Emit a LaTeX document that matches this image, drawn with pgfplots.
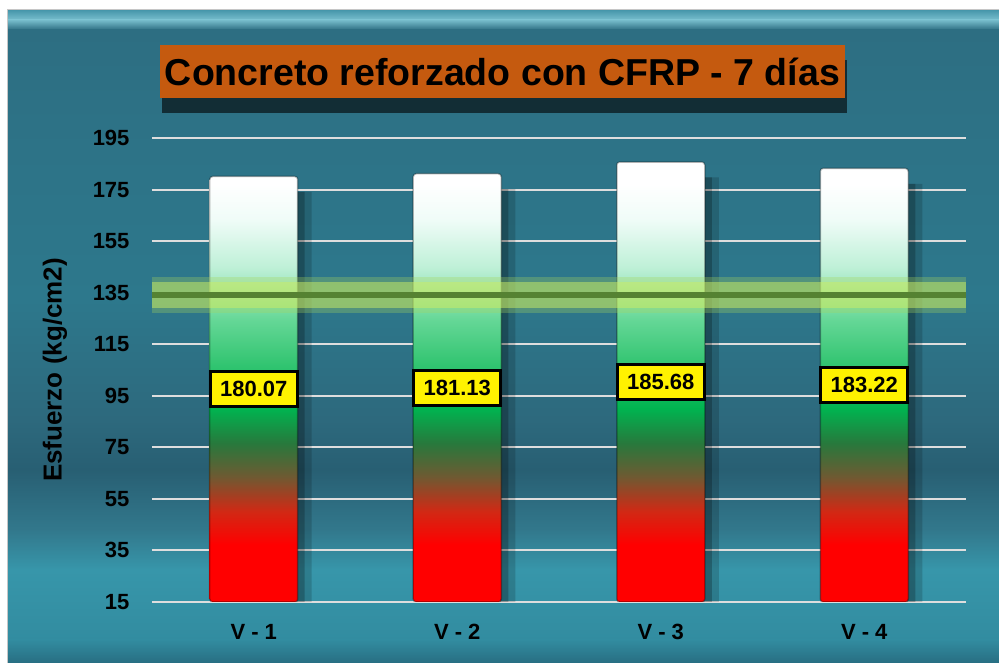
\documentclass[border=0pt]{standalone}
\usepackage{pgfplots}
\pgfplotsset{compat=1.18}
\usepackage{pgfplotstable}
\usepackage{fontspec}
\setmainfont{Liberation Sans}

\definecolor{cRed}{RGB}{255,0,0}
\definecolor{cA}{RGB}{210,40,20}
\definecolor{cB}{RGB}{110,90,50}
\definecolor{cC}{RGB}{40,120,60}
\definecolor{cD}{RGB}{0,180,80}
\definecolor{cE}{RGB}{60,200,120}
\definecolor{cF}{RGB}{100,215,150}
\definecolor{cG}{RGB}{190,240,215}
\definecolor{cH}{RGB}{240,252,248}
\definecolor{titleorange}{RGB}{197,90,15}
\definecolor{gridc}{RGB}{222,222,222}
\definecolor{glowA}{RGB}{170,215,90}
\definecolor{glowB}{RGB}{205,238,100}
\definecolor{lineC}{RGB}{85,130,50}
\definecolor{bg0}{RGB}{70,150,170}
\definecolor{bg1}{RGB}{120,190,205}
\definecolor{bg2}{RGB}{45,110,130}
\definecolor{bg3}{RGB}{45,115,135}
\definecolor{bg4}{RGB}{45,120,140}
\definecolor{bg5}{RGB}{45,105,125}
\definecolor{bg6}{RGB}{40,95,115}
\definecolor{bg7}{RGB}{50,120,140}
\definecolor{bg8}{RGB}{55,150,170}
\definecolor{bg9}{RGB}{50,140,160}
\definecolor{bg10}{RGB}{40,110,130}

\pgfdeclareverticalshading{barshade}{100bp}{color(0bp)=(cRed); color(31.5bp)=(cRed); color(35.25bp)=(cA); color(39.25bp)=(cB); color(43bp)=(cC); color(47bp)=(cD); color(53bp)=(cE); color(57bp)=(cF); color(63bp)=(cG); color(68.5bp)=(cH); color(72.5bp)=(white); color(100bp)=(white)}

\pgfplotstableread{
x v
0 180.07
1 181.13
2 185.68
3 183.22
}\datatable

\begin{document}
\begin{tikzpicture}
\useasboundingbox (-152pt,-61pt) rectangle (847pt,602pt);
\fill[white] (-152pt,-61pt) rectangle (847pt,602pt);
% background panel
\shade[top color=bg0, bottom color=bg1] (-144pt,582pt) rectangle (847pt,592pt);
\shade[top color=bg1, bottom color=bg2] (-144pt,572pt) rectangle (847pt,582.2pt);
\shade[top color=bg2, bottom color=bg3] (-144pt,452pt) rectangle (847pt,572.2pt);
\shade[top color=bg3, bottom color=bg4] (-144pt,302pt) rectangle (847pt,452.2pt);
\shade[top color=bg4, bottom color=bg5] (-144pt,182pt) rectangle (847pt,302.2pt);
\shade[top color=bg5, bottom color=bg6] (-144pt,132pt) rectangle (847pt,182.2pt);
\shade[top color=bg6, bottom color=bg7] (-144pt,72pt) rectangle (847pt,132.2pt);
\shade[top color=bg7, bottom color=bg8] (-144pt,32pt) rectangle (847pt,72.2pt);
\shade[top color=bg8, bottom color=bg9] (-144pt,-38pt) rectangle (847pt,32.2pt);
\shade[top color=bg9, bottom color=bg10] (-144pt,-61pt) rectangle (847pt,-37.8pt);
\draw[gray!45, line width=1pt] (-144pt,-61pt) -- (-144pt,592pt) -- (847pt,592pt);

\begin{axis}[
  at={(0pt,0pt)}, anchor=south west,
  scale only axis, width=814pt, height=464pt,
  xmin=-0.5, xmax=3.5, ymin=15, ymax=195,
  xtick={0,1,2,3}, xticklabels={V - 1, V - 2, V - 3, V - 4},
  ytick={15,35,55,75,95,115,135,155,175,195},
  ymajorgrids, grid style={gridc, line width=2pt},
  axis line style={draw=none}, tick style={draw=none}, major tick length=0pt,
  /pgf/number format/assume math mode=true,
  yticklabel style={font=\bfseries\fontsize{22}{22}\selectfont, anchor=east, xshift=-19pt},
  xticklabel style={font=\bfseries\fontsize{22}{22}\selectfont, anchor=north, yshift=-19pt},
]
% shadows
\addplot[ybar, bar width=88pt, bar shift=14pt, fill=black, draw=none, fill opacity=0.16] table[x=x, y expr=\thisrow{v}-6]{\datatable};
\addplot[ybar, bar width=88pt, bar shift=7pt, fill=black, draw=none, fill opacity=0.22] table[x=x, y expr=\thisrow{v}-6]{\datatable};
% bars
\addplot[ybar, bar width=88pt, bar shift=0pt, shade, shading=barshade, draw=black, draw opacity=0.3, line width=1.5pt, rounded corners=3pt] table[x=x, y=v]{\datatable};
% reference line with glow
\addplot[no marks, line width=36pt, glowA, opacity=0.3] coordinates {(-0.5,134) (3.5,134)};
\addplot[no marks, line width=26pt, glowB, opacity=0.5] coordinates {(-0.5,134) (3.5,134)};
\addplot[no marks, line width=6pt, lineC] coordinates {(-0.5,134) (3.5,134)};
% value labels at bar middle
\addplot[draw=none, mark=none, point meta=explicit symbolic, nodes near coords, nodes near coords align={center},
  every node near coord/.append style={anchor=center, fill=yellow, draw=black, line width=3pt, text=black,
    font=\bfseries\fontsize{22}{22}\selectfont, inner xsep=10pt, minimum height=35pt}]
  table[x=x, y expr=(\thisrow{v}+15)/2, meta=v]{\datatable};
\end{axis}

\node[rotate=90, font=\bfseries\fontsize{26}{26}\selectfont] at (-97pt,232pt) {Esfuerzo (kg/cm2)};
\fill[black, opacity=0.6] (10pt,489pt) rectangle (695pt,542pt);
\node[fill=titleorange, minimum width=685pt, minimum height=53pt, inner sep=0pt, font=\bfseries\fontsize{37.5}{37.5}\selectfont] at (350.5pt,530.5pt) {Concreto reforzado con CFRP - 7 días};
\end{tikzpicture}
\end{document}
